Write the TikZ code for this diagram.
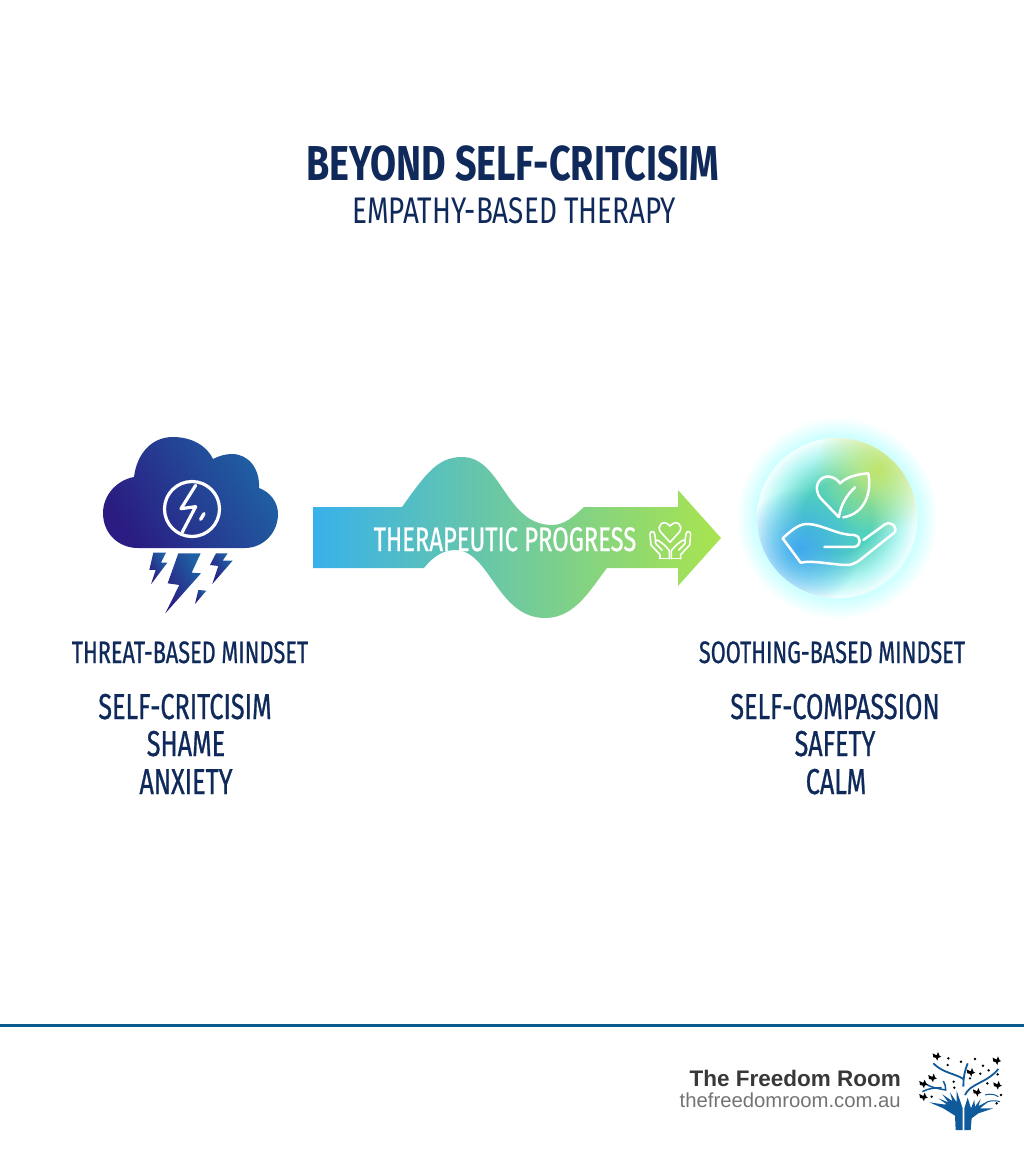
\documentclass[tikz,border=0pt]{standalone}
\usepackage{fontspec}
\usetikzlibrary{fadings}
\newfontfamily\titlefont[FakeStretch=0.77]{Fira Sans}
\newfontfamily\subfont[FakeStretch=0.753]{Fira Sans}
\newfontfamily\headfont[FakeStretch=0.70,FakeBold=0.7]{Fira Sans}
\newfontfamily\footfont{Liberation Sans}
\definecolor{navy}{HTML}{0F2A5A}
\definecolor{rulecol}{HTML}{0B5A8F}
\definecolor{logoblue}{HTML}{0F5A9A}
\definecolor{stormdark}{HTML}{2A1C82}
\definecolor{stormlight}{HTML}{1F62A4}
\definecolor{arrowblue}{HTML}{38B1EA}
\definecolor{arrowteal}{HTML}{5FC9B2}
\definecolor{arrowlime}{HTML}{A9E44E}
\definecolor{blobblue}{HTML}{3FA8EE}
\definecolor{blobgreen}{HTML}{BFE46A}
\pgfdeclareradialshading{glowring}{\pgfpoint{0bp}{0bp}}{color(0bp)=(white);color(19bp)=(white);color(20bp)=(cyan!20!white);color(25bp)=(white);color(100bp)=(white)}
\pgfdeclareradialshading{glowdisc}{\pgfpoint{0bp}{0bp}}{color(0bp)=(arrowteal!85!cyan);color(11bp)=(arrowteal!85!cyan);color(20bp)=(arrowteal!45!cyan!35!white);color(25bp)=(cyan!5!white);color(100bp)=(white)}
\tikzfading[name=blobfade,inner color=transparent!0,outer color=transparent!100]
\tikzset{
    titletext/.style={anchor=base,inner sep=0pt,text=navy,font=\titlefont\bfseries\fontsize{49}{49}\selectfont},
    subtext/.style={anchor=base,inner sep=0pt,text=navy,font=\subfont\fontsize{37}{37}\selectfont},
    minditext/.style={anchor=base,inner sep=0pt,text=navy,font=\headfont\fontsize{31}{31}\selectfont},
    listtext/.style={anchor=base,inner sep=0pt,text=navy,font=\headfont\fontsize{36}{36}\selectfont},
    whiteline/.style={draw=white,line width=#1,line cap=round,line join=round},
    stormfill/.style={left color=stormdark,right color=stormlight,shading angle=120},
}
\begin{document}
\begin{tikzpicture}[x=1pt,y=-1pt]
    \useasboundingbox (0,0) rectangle (1024,1154);

    \node[titletext] (title) at (513,180) {BEYOND SELF-CRITCISIM};
    \node[subtext] (subtitle) at (514,223) {EMPATHY-BASED THERAPY};

    % cloud
    \shade[stormfill]
    (138,548) .. controls (118,548) and (103,533) .. (103,513)
    .. controls (103,495) and (117,480) .. (134,477)
    .. controls (137,453) and (152,437) .. (173,437)
    .. controls (192,437) and (207,446) .. (213,459)
    .. controls (219,456) and (225,454) .. (232,454)
    .. controls (248,454) and (260,468) .. (259,488)
    .. controls (270,492) and (278,502) .. (278,514)
    .. controls (278,533) and (263,548) .. (245,548) -- cycle;
    \draw[whiteline=3.2pt] (192,509) circle(27.5);
    \begin{scope}[shift={(155,476)},scale=.3333]
        \draw[whiteline=3.2pt] (122,28) -- (78,98) -- (122,92) -- (82,168);
        \draw[whiteline=3.4pt] (147,113) -- (137,130);
    \end{scope}

    % bolts
    \begin{scope}[shift={(90,420)},scale=.3333]
        \shade[stormfill] (190,398) -- (228,398) -- (213,428) -- (232,428) -- (183,493) -- (197,450) -- (178,450) -- cycle;
        \shade[stormfill] (265,400) -- (332,400) -- (305,458) -- (333,460) -- (226,580) -- (268,495) -- (233,490) -- cycle;
        \shade[stormfill] (378,400) -- (413,400) -- (398,422) -- (428,422) -- (367,492) -- (385,438) -- (360,435) -- cycle;
        \shade[stormfill] (325,510) -- (349,512) -- (315,552) -- cycle;
    \end{scope}

    % wavy arrow
    \shade[left color=arrowblue,middle color=arrowteal,right color=arrowlime]
    (313,507) -- (402,507)
    .. controls (425,475) and (437,457) .. (462,457)
    .. controls (502,457) and (505,525) .. (552,525)
    .. controls (565,525) and (574,516) .. (584,507)
    -- (678,507) -- (678,490) -- (721,538) -- (678,586) -- (678,568) -- (607,568)
    .. controls (590,590) and (575,618) .. (545,618)
    .. controls (497,618) and (490,550) .. (455,550)
    .. controls (442,550) and (432,558) .. (424,568)
    -- (313,568) -- cycle;
    \node[minditext,text=white,font=\headfont\fontsize{34}{34}\selectfont] (progress) at (505,551) {THERAPEUTIC PROGRESS};
    \begin{scope}[shift={(640,510)},scale=.3333]
        \draw[whiteline=1.6pt] (90,97) -- (62,66) .. controls (48,48) and (70,25) .. (90,48)
        .. controls (110,25) and (132,48) .. (118,66) -- cycle;
        \draw[whiteline=1.6pt] (60,146) -- (60,134) -- (33,105) -- (30,72) .. controls (32,62) and (42,62) .. (44,72) -- (47,92);
        \draw[whiteline=1.6pt] (88,146) -- (88,122) .. controls (78,108) and (62,95) .. (52,90) .. controls (44,90) and (44,98) .. (50,104) -- (66,120);
        \draw[whiteline=1.6pt] (60,146) -- (88,146);
        \draw[whiteline=1.6pt] (122,146) -- (122,134) -- (149,105) -- (152,72) .. controls (150,62) and (140,62) .. (138,72) -- (135,92);
        \draw[whiteline=1.6pt] (94,146) -- (94,122) .. controls (104,108) and (120,95) .. (130,90) .. controls (138,90) and (138,98) .. (132,104) -- (116,120);
        \draw[whiteline=1.6pt] (94,146) -- (122,146);
    \end{scope}

    % soothing circle
    \shade[shading=glowring] (837,518) circle(101);
    \begin{scope}
        \clip (837,518) circle(80);
        \shade[shading=glowdisc] (837,518) circle(80);
        \fill[blobblue,path fading=blobfade] (800,548) circle(60);
        \fill[blobgreen,path fading=blobfade] (878,470) circle(64);
    \end{scope}
    \begin{scope}[shift={(730,410)},scale=.3333]
        \draw[whiteline=2.5pt] (283,411) -- (372,411) .. controls (395,408) and (395,378) .. (372,375)
        .. controls (320,375) and (275,342) .. (230,342) .. controls (205,342) and (180,365) .. (158,385)
        -- (212,458) .. controls (250,450) and (310,465) .. (350,465) .. controls (375,465) and (390,450) .. (405,438)
        -- (493,368) .. controls (505,352) and (485,332) .. (465,343) -- (400,390);
        \draw[whiteline=2.5pt] (327,322) -- (272,265) .. controls (245,230) and (270,195) .. (300,200)
        .. controls (315,203) and (325,212) .. (330,220) .. controls (350,200) and (385,192) .. (415,190)
        .. controls (425,240) and (410,310) .. (340,322);
        \draw[whiteline=2.5pt] (327,320) .. controls (332,285) and (350,255) .. (375,232);
    \end{scope}

    \node[minditext] (threat) at (190,663) {THREAT-BASED MINDSET};
    \node[minditext] (soothing) at (832,663) {SOOTHING-BASED MINDSET};
    \node[listtext] (critic) at (185,719) {SELF-CRITCISIM};
    \node[listtext] (shame) at (186,756) {SHAME};
    \node[listtext] (anxiety) at (186,794) {ANXIETY};
    \node[listtext] (compassion) at (835,719) {SELF-COMPASSION};
    \node[listtext] (safety) at (835,756) {SAFETY};
    \node[listtext] (calm) at (836,794) {CALM};

    % footer
    \fill[rulecol] (0,1024) rectangle (1024,1027);
    \node[anchor=base east,inner sep=0pt,text=black!78,font=\footfont\bfseries\fontsize{22.5}{23}\selectfont] (brand) at (901,1086) {The Freedom Room};
    \node[anchor=base east,inner sep=0pt,text=black!55,font=\footfont\fontsize{20.3}{21}\selectfont] (site) at (901,1107) {thefreedomroom.com.au};

    % logo
    \begin{scope}[shift={(915,1045)},scale=.3333]
        \fill[logoblue] (122,255) -- (120,212) -- (85,190) -- (43,172) -- (85,178) -- (95,178) -- (70,160) -- (100,172) -- (82,148) -- (112,168) -- (105,142) -- (125,172) -- (125,137) -- (143,190) -- (143,255) -- cycle;
        \fill[logoblue] (148,255) -- (148,190) -- (158,158) -- (168,190) -- (178,165) -- (180,185) -- (197,162) -- (190,183) -- (222,168) -- (195,190) -- (235,190) -- (190,205) -- (170,220) -- (167,255) -- cycle;
        \draw[logoblue,line width=1.8pt] (55,55) .. controls (85,85) and (120,85) .. (145,102);
        \draw[logoblue,line width=1.8pt] (145,125) .. controls (145,95) and (150,75) .. (158,55);
        \draw[logoblue,line width=1.8pt] (150,150) .. controls (165,115) and (215,115) .. (250,72);
        \draw[logoblue,line width=1.5pt] (25,112) .. controls (50,130) and (70,130) .. (92,135) .. controls (92,125) and (90,115) .. (85,108);
        \draw[logoblue,line width=1.5pt] (22,140) .. controls (40,130) and (60,128) .. (80,128);
        \draw[logoblue,line width=1pt] (210,150) .. controls (225,145) and (240,148) .. (250,155);
        \draw[logoblue,line width=1pt] (205,178) .. controls (220,165) and (240,165) .. (255,170);
        \foreach \px/\py in {100/40,98/60,138/50,180/42,204/62,221/76,196/86,165/100,248/88,217/115,116/110,118/128,258/150,245/175,50/155}
        \fill[black] (\px,\py) circle(4);
        \foreach \px/\py in {65/35,245/48,167/83,52/100,247/122,186/143,25/118,25/157}
        \fill[black,shift={(\px,\py)}] (-12,-10) -- (0,-4) -- (4,-14) -- (9,-2) -- (14,0) -- (4,4) -- (2,12) -- (-3,3) -- (-10,2) -- cycle;
    \end{scope}
\end{tikzpicture}
\end{document}
